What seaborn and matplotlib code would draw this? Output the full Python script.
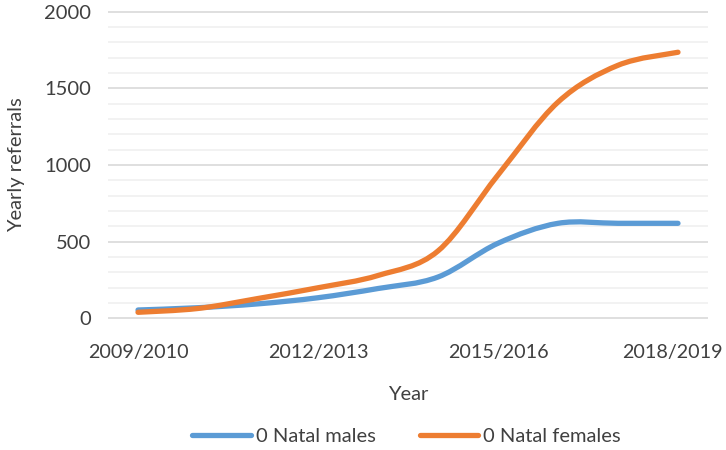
import matplotlib
matplotlib.use('Agg')
import matplotlib.pyplot as plt
import matplotlib.transforms as mtransforms
from matplotlib.path import Path
from matplotlib.patches import PathPatch
from matplotlib.ticker import MultipleLocator
import numpy as np
import pandas as pd
import seaborn as sns

years = ['2009/2010', '2010/2011', '2011/2012', '2012/2013', '2013/2014',
         '2014/2015', '2015/2016', '2016/2017', '2017/2018', '2018/2019']
natal_males = [55, 70, 95, 135, 195, 270, 490, 620, 620, 620]
natal_females = [40, 65, 130, 200, 280, 440, 935, 1410, 1650, 1735]
series_names = ['0 Natal males', '0 Natal females']
tick_years = ['2009/2010', '2012/2013', '2015/2016', '2018/2019']

df = pd.DataFrame({
    'idx': list(range(len(years))) * 2,
    'referrals': natal_males + natal_females,
    'series': [series_names[0]] * len(years) + [series_names[1]] * len(years),
})

sns.set_theme(style='white')
plt.rcParams['font.family'] = ['Lato', 'DejaVu Sans']
text_col = '#404040'


def smooth_path(xy, t=1.0 / 6):
    # excel-like smoothed line: catmull-rom converted to cubic beziers
    pts = np.vstack([xy[0], xy, xy[-1]])
    verts = [tuple(xy[0])]
    codes = [Path.MOVETO]
    for i in range(1, len(pts) - 2):
        p0, p1, p2, p3 = pts[i - 1], pts[i], pts[i + 1], pts[i + 2]
        c1 = p1 + (p2 - p0) * t
        c2 = p2 - (p3 - p1) * t
        verts += [tuple(c1), tuple(c2), tuple(p2)]
        codes += [Path.CURVE4] * 3
    return Path(verts, codes)


fig = plt.figure(figsize=(7.26, 4.5), dpi=100)
ax = fig.add_axes([0.1488, 0.291, 0.8264, 0.6846])

palette = {series_names[0]: '#5B9BD5', series_names[1]: '#ED7D31'}
sns.lineplot(data=df, x='idx', y='referrals', hue='series', palette=palette,
             linewidth=3.8, ax=ax)

# replace the straight segments with smoothed curves
for line in list(ax.lines):
    xy = line.get_xydata()
    if len(xy) < 3:
        continue
    patch = PathPatch(smooth_path(xy), facecolor='none', edgecolor=line.get_color(),
                      linewidth=3.8, capstyle='round', joinstyle='round', zorder=3)
    ax.add_patch(patch)
    line.set_visible(False)

ax.set_xlim(-0.5, 9.5)
ax.set_ylim(-4, 2004)
ax.yaxis.set_major_locator(MultipleLocator(500))
ax.yaxis.set_minor_locator(MultipleLocator(100))
ax.set_xticks([years.index(y) for y in tick_years])
ax.set_xticklabels(tick_years)

ax.grid(which='minor', axis='y', color='#f0f0f0', linewidth=1.2)
ax.grid(which='major', axis='y', color='#d9d9d9', linewidth=1.2)
ax.grid(False, axis='x')
for s in ax.spines.values():
    s.set_visible(False)

ax.tick_params(axis='both', which='both', length=0, labelsize=14.5, colors=text_col)
ax.tick_params(axis='x', pad=18, labelsize=14.2)
ax.tick_params(axis='y', pad=12)
ax.set_xlabel('Year', fontsize=14.5, color=text_col, labelpad=18)
ax.set_ylabel('Yearly referrals', fontsize=14.5, color=text_col, labelpad=14)

# last year label sits a bit left so it stays inside the figure
last = ax.get_xticklabels()[-1]
last.set_transform(last.get_transform() + mtransforms.ScaledTranslation(-6 / 100, 0, fig.dpi_scale_trans))

ax.legend(loc='center', bbox_to_anchor=(0.56, 0.029), bbox_transform=fig.transFigure,
          ncol=2, frameon=False, fontsize=14.5, handlelength=2.9, handletextpad=0.25,
          columnspacing=2.2, labelcolor=text_col)

fig.savefig('out.png', dpi=100)
